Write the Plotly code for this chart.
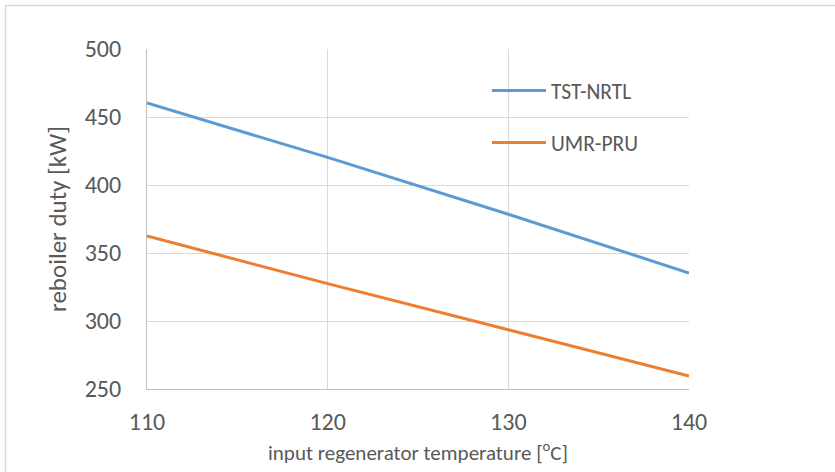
import plotly.graph_objects as go

temps = [110, 120, 130, 140]
tst_nrtl = [460.3, 420.3, 378.5, 335.3]
umr_pru = [362.5, 327.5, 293.6, 259.6]

x_ticks = [110, 120, 130, 140]
y_ticks = [250, 300, 350, 400, 450, 500]

FONT = "Carlito, Lato, 'Liberation Sans', sans-serif"
GRID = "#d9d9d9"
TXT = "#595959"

fig = go.Figure()
fig.add_trace(go.Scatter(x=temps, y=tst_nrtl, mode="lines", name="TST-NRTL",
                         line=dict(color="#5B9BD5", width=3), legendgroup="a"))
fig.add_trace(go.Scatter(x=temps, y=umr_pru, mode="lines", name="UMR-PRU",
                         line=dict(color="#ED7D31", width=3), legendgroup="b"))

L, R, T, B = 147, 146, 49, 83
W, H = 835, 472
pw, ph = W - L - R, H - T - B


def px(xp):
    return (xp - L) / pw


def py(yp):
    return (H - B - yp) / ph


fig.update_layout(
    width=W, height=H,
    margin=dict(l=L, r=R, t=T, b=B),
    paper_bgcolor="white", plot_bgcolor="white",
    font=dict(family=FONT, color=TXT, size=24),
    showlegend=True,
    legend=dict(x=px(487), y=py(70), xanchor="left", yanchor="top",
                bgcolor="rgba(0,0,0,0)", borderwidth=0, font=dict(size=21.5, color=TXT),
                tracegroupgap=21, itemwidth=54),
    xaxis=dict(range=[110, 140], tickvals=x_ticks, showgrid=True, gridcolor=GRID,
               gridwidth=1, showline=True, linecolor="#bfbfbf", linewidth=1,
               zeroline=False, ticks="outside", ticklen=11, tickcolor="rgba(0,0,0,0)",
               tickfont=dict(size=24, color=TXT),
               title=dict(text="input regenerator temperature [<sup>o</sup>C]",
                          font=dict(size=21, color=TXT), standoff=10)),
    yaxis=dict(range=[250, 500], tickvals=y_ticks, showgrid=True, gridcolor=GRID,
               gridwidth=1, showline=True, linecolor="#bfbfbf", linewidth=1,
               zeroline=False, ticks="outside", ticklen=20, tickcolor="rgba(0,0,0,0)",
               tickfont=dict(size=24, color=TXT),
               title=dict(text="reboiler duty [kW]", font=dict(size=25, color=TXT), standoff=10)),
    shapes=[
        dict(type="rect", xref="paper", yref="paper",
             x0=px(5.5), x1=px(845), y0=py(480), y1=py(5.5),
             line=dict(color=GRID, width=1.5), fillcolor="rgba(0,0,0,0)", layer="below"),
        dict(type="rect", xref="paper", yref="paper",
             x0=px(473), x1=px(648), y0=py(170), y1=py(68),
             line=dict(width=0), fillcolor="white", layer="between"),
    ],
)
fig.write_html("out.html")
